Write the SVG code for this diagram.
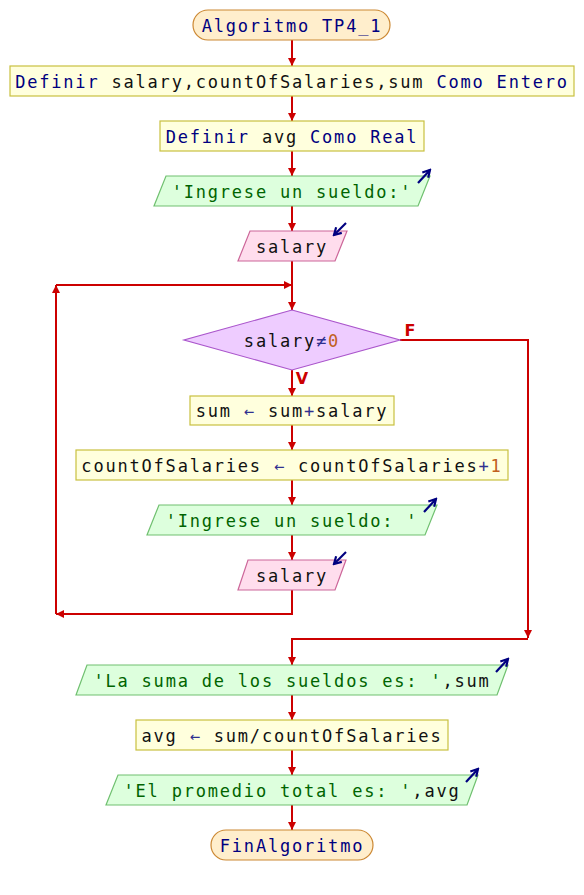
<svg xmlns="http://www.w3.org/2000/svg" width="584" height="895" viewBox="0 0 584 895">
<style>
text{font-family:"DejaVu Sans Mono","Liberation Mono",monospace;font-size:17px;letter-spacing:1.8px;text-anchor:middle}
.term{fill:#ffeecc;stroke:#cc8833;stroke-width:1.2}
.proc{fill:#ffffdd;stroke:#c8c040;stroke-width:1.2}
.out{fill:#ddffdd;stroke:#70c070;stroke-width:1.2}
.in{fill:#ffdded;stroke:#cc6699;stroke-width:1.2}
.dec{fill:#eeccff;stroke:#aa55cc;stroke-width:1.2}
.kw{fill:#000080}
.id{fill:#111111}
.str{fill:#006400}
.op{fill:#303090}
.num{fill:#c06020}
.c{fill:none;stroke:#cc0000;stroke-width:2}
.ico{fill:none;stroke:#000080;stroke-width:2.2}
.lbl{font-family:"DejaVu Sans",sans-serif;font-weight:bold;font-size:16px;fill:#cc0000;letter-spacing:0}
</style>
<defs>
<marker id="ah" viewBox="0 0 10 10" refX="10" refY="5" markerWidth="8" markerHeight="8" markerUnits="userSpaceOnUse" orient="auto">
<path d="M0,0 L10,5 L0,10 z" fill="#cc0000"/>
</marker>
<marker id="ih" viewBox="0 0 10 10" refX="8" refY="5" markerWidth="10" markerHeight="10" markerUnits="userSpaceOnUse" orient="auto">
<path d="M1,1 L8,5 L1,9" fill="none" stroke="#000080" stroke-width="2.2"/>
</marker>
</defs>
<g id="connectors">
<path class="c" d="M292,40 V66" marker-end="url(#ah)"/>
<path class="c" d="M292,96 V121" marker-end="url(#ah)"/>
<path class="c" d="M292,151 V176" marker-end="url(#ah)"/>
<path class="c" d="M292,206 V231" marker-end="url(#ah)"/>
<path class="c" d="M292,261 V310" marker-end="url(#ah)"/>
<path class="c" d="M292,370 V396" marker-end="url(#ah)"/>
<path class="c" d="M292,425 V450" marker-end="url(#ah)"/>
<path class="c" d="M292,480 V505" marker-end="url(#ah)"/>
<path class="c" d="M292,535 V560" marker-end="url(#ah)"/>
<path class="c" d="M292,590 V614 H56" marker-end="url(#ah)"/>
<path class="c" d="M56,614 V285" marker-end="url(#ah)"/>
<path class="c" d="M56,285 H292" marker-end="url(#ah)"/>
<path class="c" d="M400,340 H528 V638" marker-end="url(#ah)"/>
<path class="c" d="M528,639 H292 V665" marker-end="url(#ah)"/>
<path class="c" d="M292,695 V720" marker-end="url(#ah)"/>
<path class="c" d="M292,750 V775" marker-end="url(#ah)"/>
<path class="c" d="M292,805 V830" marker-end="url(#ah)"/>
<text class="lbl" x="410" y="336">F</text>
<text class="lbl" x="302" y="384">V</text>
</g>
<g id="start">
<rect class="term" x="193" y="10" width="197" height="30" rx="15"/>
<text x="292" y="32" class="kw">Algoritmo TP4_1</text>
</g>
<g id="def1">
<rect class="proc" x="10" y="66" width="564" height="30"/>
<text x="292" y="88"><tspan class="kw">Definir </tspan><tspan class="id">salary,countOfSalaries,sum </tspan><tspan class="kw">Como Entero</tspan></text>
</g>
<g id="def2">
<rect class="proc" x="160" y="121" width="264" height="30"/>
<text x="292" y="143"><tspan class="kw">Definir </tspan><tspan class="id">avg </tspan><tspan class="kw">Como Real</tspan></text>
</g>
<g id="out1">
<polygon class="out" points="166,176 430,176 418,206 154,206"/>
<text x="292" y="198" class="str">'Ingrese un sueldo:'</text>
<path class="ico" d="M418,183 L430,170" marker-end="url(#ih)"/>
</g>
<g id="in1">
<polygon class="in" points="250,231 347,231 335,261 238,261"/>
<text x="292" y="253" class="id">salary</text>
<path class="ico" d="M346,223 L334,235" marker-end="url(#ih)"/>
</g>
<g id="cond">
<polygon class="dec" points="292,310 400,340 292,370 184,340"/>
<text x="292" y="347"><tspan class="id">salary</tspan><tspan class="op">≠</tspan><tspan class="num">0</tspan></text>
</g>
<g id="sum">
<rect class="proc" x="190" y="396" width="204" height="29"/>
<text x="292" y="417"><tspan class="id">sum </tspan><tspan class="op">←</tspan><tspan class="id"> sum</tspan><tspan class="op">+</tspan><tspan class="id">salary</tspan></text>
</g>
<g id="count">
<rect class="proc" x="76" y="450" width="432" height="30"/>
<text x="292" y="472"><tspan class="id">countOfSalaries </tspan><tspan class="op">←</tspan><tspan class="id"> countOfSalaries</tspan><tspan class="op">+</tspan><tspan class="num">1</tspan></text>
</g>
<g id="out2">
<polygon class="out" points="159,505 437,505 425,535 147,535"/>
<text x="292" y="527" class="str">'Ingrese un sueldo: '</text>
<path class="ico" d="M424,512 L436,499" marker-end="url(#ih)"/>
</g>
<g id="in2">
<polygon class="in" points="248,560 346,560 335,590 238,590"/>
<text x="292" y="582" class="id">salary</text>
<path class="ico" d="M346,552 L334,564" marker-end="url(#ih)"/>
</g>
<g id="out3">
<polygon class="out" points="87,665 508,665 497,695 76,695"/>
<text x="292" y="687"><tspan class="str">'La suma de los sueldos es: '</tspan><tspan class="id">,sum</tspan></text>
<path class="ico" d="M496,672 L508,659" marker-end="url(#ih)"/>
</g>
<g id="avg">
<rect class="proc" x="136" y="720" width="312" height="30"/>
<text x="292" y="742"><tspan class="id">avg </tspan><tspan class="op">←</tspan><tspan class="id"> sum/countOfSalaries</tspan></text>
</g>
<g id="out4">
<polygon class="out" points="118,775 478,775 467,805 106,805"/>
<text x="292" y="797"><tspan class="str">'El promedio total es: '</tspan><tspan class="id">,avg</tspan></text>
<path class="ico" d="M466,782 L478,769" marker-end="url(#ih)"/>
</g>
<g id="end">
<rect class="term" x="211" y="830" width="162" height="30" rx="15"/>
<text x="292" y="852" class="kw">FinAlgoritmo</text>
</g>
</svg>
